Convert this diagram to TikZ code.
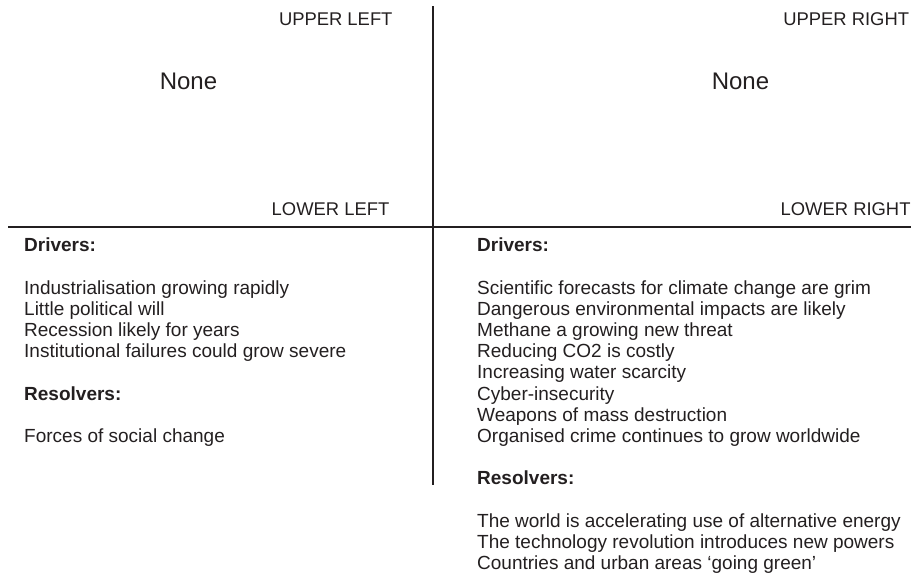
\documentclass[tikz,border=0pt]{standalone}
\usepackage{fontspec}
\setmainfont{Liberation Sans}
\definecolor{inkblack}{HTML}{231F20}
\tikzset{
	corner/.style = {anchor = base east, inner sep = 0pt, font = \fontsize{18.4}{21}\selectfont},
	none/.style = {anchor = base, inner sep = 0pt, font = \fontsize{24}{28}\selectfont},
	item/.style = {anchor = base west, inner sep = 0pt, font = \fontsize{19}{21.2}\selectfont},
	head/.style = {item, font = \fontsize{19}{21.2}\selectfont\bfseries}
}
\begin{document}
\begin{tikzpicture}[x = 1pt, y = -1pt, inkblack]
		\useasboundingbox (0,0) rectangle (916,576);
		\coordinate (top) at (433.3,6);
		\coordinate (bottom) at (433.3,485);
		\coordinate (west) at (8,227.3);
		\coordinate (east) at (910.5,227.3);
		\draw [line width = 2.2pt] (top) -- (bottom);
		\draw [line width = 2.2pt] (west) -- (east);
		\node [corner](ul) at (392.7,25.7) {UPPER LEFT};
		\node [corner](ur) at (909.3,25.7) {UPPER RIGHT};
		\node [corner](ll) at (389.5,215.7) {LOWER LEFT};
		\node [corner](lr) at (910.7,215.7) {LOWER RIGHT};
		\node [none](none_ul) at (188.5,89) {None};
		\node [none](none_ur) at (740.5,89) {None};
		% lower left
		\node [head](drv_l) at (24,251.7) {Drivers:};
		\node [item](l1) at (24,294.1) {Industrialisation growing rapidly};
		\node [item](l2) at (24,315.3) {Little political will};
		\node [item](l3) at (24,336.5) {Recession likely for years};
		\node [item](l4) at (24,357.7) {Institutional failures could grow severe};
		\node [head](res_l) at (24,400.1) {Resolvers:};
		\node [item](l5) at (24,442.5) {Forces of social change};
		% lower right
		\node [head](drv_r) at (477,251.7) {Drivers:};
		\node [item](r1) at (477,294.1) {Scientific forecasts for climate change are grim};
		\node [item](r2) at (477,315.3) {Dangerous environmental impacts are likely};
		\node [item](r3) at (477,336.5) {Methane a growing new threat};
		\node [item](r4) at (477,357.7) {Reducing CO2 is costly};
		\node [item](r5) at (477,378.9) {Increasing water scarcity};
		\node [item](r6) at (477,400.1) {Cyber-insecurity};
		\node [item](r7) at (477,421.3) {Weapons of mass destruction};
		\node [item](r8) at (477,442.5) {Organised crime continues to grow worldwide};
		\node [head](res_r) at (477,484.9) {Resolvers:};
		\node [item](r9) at (477,527.3) {The world is accelerating use of alternative energy};
		\node [item](r10) at (477,548.5) {The technology revolution introduces new powers};
		\node [item](r11) at (477,569.7) {Countries and urban areas ‘going green’};
		\end{tikzpicture}
\end{document}
